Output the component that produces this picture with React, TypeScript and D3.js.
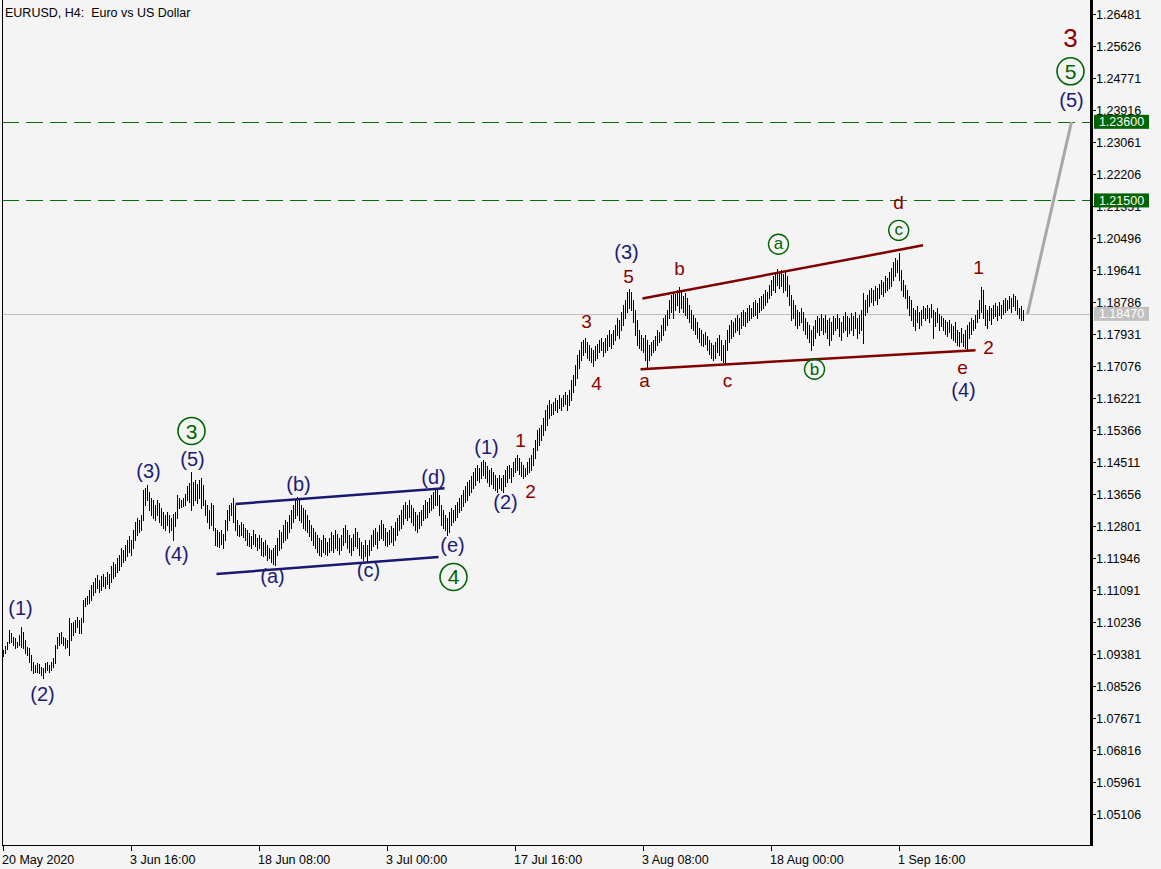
import React from 'react';
import * as d3 from 'd3';

// H4 bars, price x 10000 (high / low), bar 0 = 20 May 2020 00:00
const highs: number[] = [
  10949,10959,10970,11002,10994,10983,10981,10970,10989,11010,
  10997,10975,10957,10954,10935,10917,10909,10914,10911,10903,
  10901,10914,10917,10909,10917,10927,10962,10983,10994,10997,
  10983,10981,10975,11034,11021,11023,11029,11037,11029,11034,
  11082,11088,11093,11109,
  11122,11130,11141,11149,11136,11146,11152,11144,11157,11152,11173,11184,11178,11194,11202,11221,11216,11229,11242,11253,11242,11269,11291,11301,11296,11309,11376,11381,11390,
  11371,11355,11349,11336,11349,11341,11328,11317,11309,11317,11309,11301,11312,11317,11363,11355,11349,11355,11365,11387,11395,11424,11397,11403,11392,11403,11408,11390,
  11349,11336,11323,11341,11336,11275,11269,11264,11269,11258,
  11296,11323,11336,11341,11355,11336,11296,11283,11291,11285,
  11275,11269,11261,11253,11269,11258,11248,11256,11248,11237,
  11242,11229,11221,11216,11221,11229,11248,11269,11264,11283,
  11296,11291,11309,11323,11336,11349,11357,11355,11336,11328,
  11323,11309,11296,11283,11275,11264,11256,11248,11242,11256,
  11248,11237,11248,11264,11256,11269,11258,11248,11256,11275,
  11283,11269,11256,11248,11258,11275,11264,11248,11237,11229,
  11242,11229,11242,11256,11269,11275,11264,11283,11296,11285,
  11275,11264,11269,11280,11275,11291,11301,11309,11323,11336,
  11344,11336,11349,11336,11328,11317,11309,11317,11323,11336,
  11349,11344,11355,11363,11371,11376,11381,11363,11336,11323,
  11309,11301,11317,11328,11323,11336,11344,11355,11363,11376,
  11387,11397,11403,11414,11424,11435,11443,11435,11451,11456,
  11451,11440,11430,11435,11424,11416,11408,11416,11408,11416,
  11430,11440,11443,11435,11451,11462,11470,11462,11451,11443,
  11435,11451,11462,11470,11488,
  11510,11536,11541,11550,11568,11590,11603,11617,11606,11611,
  11622,11617,11630,11622,11630,11638,11630,11643,11670,11683,
  11710,11737,11750,11771,11777,11782,11771,11763,11755,11750,
  11761,11766,11777,11782,11771,11782,11790,11804,11793,11804,
  11817,11836,11830,11852,11870,11884,11905,11913,
  11905,11884,11857,11830,11804,11790,11782,11790,11777,11763,
  11771,11777,11788,11804,11798,11817,11836,11844,11857,11884,
  11897,11905,11900,11910,11918,11905,11894,11902,11889,11870,
  11857,11844,11836,11825,11809,11804,11793,11798,11788,11777,
  11769,11763,11771,11782,11790,11777,11763,
  11777,11804,11817,11830,11825,11836,11844,11836,11852,11857,
  11852,11862,11870,11862,11878,11884,11876,11889,11894,11900,
  11910,11905,11924,11937,11948,11958,11966,11958,11964,11953,
  11958,11948,11924,11897,11884,11870,11857,11852,11862,11852,
  11836,11825,11817,11804,11814,11830,11841,11836,11846,11836,
  11844,11830,11836,11825,11841,11836,11846,11836,11825,11841,
  11852,11841,11836,11849,11841,11852,11836,11844,11857,11902,
  11884,11897,11910,11916,11910,11921,11916,11926,11937,11932,
  11948,11942,11958,11969,11985,11996,11990,12009,11964,11937,
  11924,11910,11894,11884,11862,11857,11868,11852,11857,11868,
  11862,11870,11862,11873,11857,11852,11862,11846,11841,11836,
  11830,11825,11830,11820,11814,11825,11804,11798,11809,11793,
  11804,11817,11825,11836,11830,11844,11857,11884,11918,11910,
  11870,11857,11868,11862,11870,11876,11868,11878,11870,11884,
  11889,11884,11894,11889,11900,11894,11884,11862,11868,11857,
];
const lows: number[] = [
  10933,10941,10951,10967,10970,10962,10954,10957,10962,10957,
  10954,10941,10935,10917,10895,10887,10890,10890,10887,10882,
  10874,10890,10895,10890,10895,10903,10914,10954,10962,10967,
  10962,10954,10957,10935,10975,10989,10997,11010,10994,10994,
  11023,11066,11072,11074,
  11082,11096,11104,11114,11104,11109,11120,11114,11125,11114,11130,11141,11146,11157,11162,11173,11184,11189,11200,11210,11202,11221,11242,11256,11264,11269,11296,11336,11349,
  11323,11309,11301,11296,11309,11291,11283,11275,11269,11283,11264,11269,11242,11280,11301,11328,11331,11333,11336,11349,11344,11323,11336,11349,11341,11355,11328,11336,
  11309,11291,11275,11283,11269,11229,11226,11224,11231,11221,
  11242,11269,11296,11309,11291,11269,11256,11253,11256,11250,
  11242,11229,11226,11221,11231,11226,11216,11221,11202,11200,
  11202,11189,11194,11184,11178,11176,11202,11216,11221,11237,
  11242,11248,11264,11275,11291,11301,11309,11296,11291,11275,
  11269,11264,11253,11242,11229,11221,11210,11202,11200,11210,
  11205,11202,11210,11216,11210,11221,11216,11205,11216,11229,
  11237,11221,11210,11202,11216,11226,11221,11202,11194,11189,
  11200,11184,11202,11216,11226,11231,11221,11242,11248,11242,
  11229,11226,11231,11237,11229,11242,11256,11269,11275,11285,
  11301,11296,11304,11291,11283,11269,11264,11275,11283,11296,
  11301,11304,11317,11323,11328,11336,11336,11309,11283,11275,
  11269,11256,11264,11283,11291,11296,11304,11317,11323,11333,
  11344,11349,11363,11371,11381,11390,11403,11397,11408,11416,
  11408,11397,11387,11392,11381,11376,11371,11381,11376,11371,
  11387,11397,11408,11397,11414,11424,11430,11419,11414,11408,
  11414,11419,11424,11430,11443,
  11462,11483,11496,11510,11523,11536,11550,11568,11577,11579,
  11590,11585,11595,11590,11601,11606,11590,11603,11617,11638,
  11657,11675,11702,11723,11737,11745,11729,11723,11718,11707,
  11723,11729,11745,11750,11734,11745,11750,11761,11755,11766,
  11777,11790,11782,11804,11817,11836,11852,11862,
  11857,11825,11790,11763,11755,11750,11745,11723,11702,11723,
  11737,11745,11750,11763,11771,11777,11790,11804,11817,11836,
  11852,11836,11857,11870,11852,11862,11852,11844,11836,11825,
  11809,11804,11793,11782,11771,11763,11761,11766,11750,11739,
  11729,11723,11729,11745,11737,11723,11718,
  11713,11750,11771,11782,11788,11798,11804,11793,11809,11817,
  11814,11825,11830,11836,11841,11844,11836,11852,11857,11862,
  11870,11878,11889,11897,11910,11905,11924,11916,11921,11905,
  11910,11894,11870,11830,11836,11817,11809,11817,11825,11804,
  11793,11782,11771,11750,11763,11782,11798,11790,11804,11793,
  11798,11782,11763,11777,11793,11804,11809,11788,11777,11798,
  11804,11788,11796,11804,11790,11809,11782,11796,11804,11769,
  11844,11852,11868,11878,11870,11884,11873,11889,11900,11894,
  11905,11910,11916,11921,11937,11948,11958,11937,11910,11894,
  11889,11862,11844,11830,11814,11804,11825,11809,11817,11836,
  11830,11836,11825,11838,11782,11814,11825,11804,11814,11804,
  11793,11788,11798,11782,11777,11771,11763,11761,11771,11761,
  11755,11753,11782,11793,11804,11809,11825,11836,11852,11836,
  11817,11809,11830,11820,11836,11841,11830,11844,11836,11846,
  11852,11857,11862,11852,11868,11857,11846,11836,11830,11830,
];

const priceTicks: number[] = [
  1.05106,1.05961,1.06816,1.07671,1.08526,1.09381,1.10236,1.11091,1.11946,1.12801,
  1.13656,1.14511,1.15366,1.16221,1.17076,1.17931,1.18786,1.19641,1.20496,1.21351,
  1.22206,1.23061,1.23916,1.24771,1.25626,1.26481,
];
const timeTickBars: number[] = [0, 64, 128, 192, 256, 320, 384, 448];
const timeTickLabels: string[] = [
  '20 May 2020','3 Jun 16:00','18 Jun 08:00','3 Jul 00:00',
  '17 Jul 16:00','3 Aug 08:00','18 Aug 00:00','1 Sep 16:00',
];
const targetLevels: number[] = [1.236, 1.215];
const lastPrice = 1.1847;

// trend lines: [bar1, price1, bar2, price2]
const navyChannel: number[][] = [
  [116, 1.1339, 220.5, 1.1381],
  [106.5, 1.1152, 217.5, 1.1197],
];
const redTriangle: number[][] = [
  [319.5, 1.1888, 459.8, 1.2030],
  [318.5, 1.1699, 486, 1.1750],
];
const projection: number[] = [512, 1.1847, 534, 1.236];

type Lbl = { t: string; i: number; p: number };
const navyLabels: Lbl[] = [
  { t: '(1)', i: 8.5, p: 1.1058 }, { t: '(2)', i: 19.5, p: 1.0828 },
  { t: '(3)', i: 72.5, p: 1.1424 }, { t: '(4)', i: 86.5, p: 1.12 },
  { t: '(5)', i: 94.5, p: 1.1454 }, { t: '(a)', i: 134.5, p: 1.1141 },
  { t: '(b)', i: 147.5, p: 1.1387 }, { t: '(c)', i: 182.5, p: 1.1157 },
  { t: '(d)', i: 215, p: 1.1408 }, { t: '(e)', i: 224.5, p: 1.1226 },
  { t: '(1)', i: 241.5, p: 1.1486 }, { t: '(2)', i: 251, p: 1.1341 },
  { t: '(3)', i: 311.5, p: 1.2007 }, { t: '(4)', i: 480, p: 1.1638 },
  { t: '(5)', i: 534, p: 1.2413 },
];
const redLabels: Lbl[] = [
  { t: '1', i: 258.5, p: 1.151 }, { t: '2', i: 263.5, p: 1.1373 },
  { t: '3', i: 291.5, p: 1.1828 }, { t: '4', i: 296.5, p: 1.1662 },
  { t: '5', i: 312.5, p: 1.1948 }, { t: 'a', i: 320.5, p: 1.1665 },
  { t: 'b', i: 338, p: 1.1969 }, { t: 'c', i: 362, p: 1.1665 },
  { t: 'd', i: 447.5, p: 1.2146 }, { t: 'e', i: 479.5, p: 1.1699 },
  { t: '1', i: 487.5, p: 1.1972 }, { t: '2', i: 492.5, p: 1.1758 },
];
const bigRedLabel: Lbl = { t: '3', i: 533.5, p: 1.2584 };
const circledBig: Lbl[] = [
  { t: '3', i: 94, p: 1.1534 }, { t: '4', i: 225, p: 1.1144 }, { t: '5', i: 533.5, p: 1.2495 },
];
const circledSmall: Lbl[] = [
  { t: 'a', i: 387.5, p: 1.2033 }, { t: 'b', i: 405.5, p: 1.1699 }, { t: 'c', i: 447.6, p: 1.207 },
];

const W = 1161;
const H = 869;
const BG = '#f4f4f4';
const NAVY = '#1c1c78';
const DRED = '#8b0000';
const GREEN = '#006400';
const FONT = '"Liberation Sans", Arial, sans-serif';

const dyFor = (t: string) => (/[()]/.test(t) || /^[ace]$/.test(t) ? '0.27em' : '0.36em');

export default function App() {
  const x = d3.scaleLinear().domain([0, 510]).range([3.5, 1023.5]);
  const y = d3.scaleLinear().domain([1.05106, 1.26481]).range([814, 14]);
  const py = (v: number) => y(v / 10000);

  const barPath = highs
    .map((h, i) => `M${x(i)},${Math.round(py(h))}V${Math.round(py(lows[i])) + 1}`)
    .join('');

  const axisX = 1091;
  const bottomY = 845;
  const fmt = d3.format('.5f');

  const seg = (s: number[], k: number) => (
    <line key={k} x1={x(s[0])} y1={y(s[1])} x2={x(s[2])} y2={y(s[3])} />
  );

  return (
    <svg width={W} height={H} style={{ position: 'absolute', left: 0, top: 0 }} fontFamily={FONT}>
      <rect x={0} y={0} width={W} height={H} fill={BG} />
      {/* level lines */}
      <g stroke="#0a6e0a" strokeWidth={1} strokeDasharray="17 7" shapeRendering="crispEdges">
        {targetLevels.map((l, k) => (
          <line key={k} x1={2} x2={axisX} y1={Math.round(y(l)) + 0.5} y2={Math.round(y(l)) + 0.5} />
        ))}
      </g>
      <line x1={2} x2={axisX} y1={Math.round(y(lastPrice)) + 0.5} y2={Math.round(y(lastPrice)) + 0.5}
        stroke="#c0c0c0" strokeWidth={1} shapeRendering="crispEdges" />
      {/* bars */}
      <path d={barPath} stroke="#000" strokeWidth={1} fill="none" shapeRendering="crispEdges" />
      {/* trend lines */}
      <g stroke="#191970" strokeWidth={2.5}>{navyChannel.map(seg)}</g>
      <g stroke="#800000" strokeWidth={2.5}>{redTriangle.map(seg)}</g>
      <line x1={x(projection[0])} y1={y(projection[1])} x2={x(projection[2])} y2={y(projection[3])}
        stroke="#a8a8a8" strokeWidth={3} />
      {/* labels */}
      <g fill={NAVY} fontSize={20} textAnchor="middle">
        {navyLabels.map((l, k) => (
          <text key={k} x={x(l.i)} y={y(l.p)} dy={dyFor(l.t)}>{l.t}</text>
        ))}
      </g>
      <g fill={DRED} fontSize={19} textAnchor="middle">
        {redLabels.map((l, k) => (
          <text key={k} x={x(l.i)} y={y(l.p)} dy={dyFor(l.t)}>{l.t}</text>
        ))}
        <text x={x(bigRedLabel.i)} y={y(bigRedLabel.p)} dy="0.36em" fontSize={26}>{bigRedLabel.t}</text>
      </g>
      <g fill={GREEN} textAnchor="middle">
        {circledBig.map((l, k) => (
          <g key={k}>
            <circle cx={x(l.i)} cy={y(l.p)} r={13.5} fill="none" stroke={GREEN} strokeWidth={1.6} />
            <text x={x(l.i)} y={y(l.p)} dy="0.36em" fontSize={21}>{l.t}</text>
          </g>
        ))}
        {circledSmall.map((l, k) => (
          <g key={k}>
            <circle cx={x(l.i)} cy={y(l.p)} r={10} fill="none" stroke={GREEN} strokeWidth={1.4} />
            <text x={x(l.i)} y={y(l.p)} dy={dyFor(l.t)} fontSize={17}>{l.t}</text>
          </g>
        ))}
      </g>
      {/* frame */}
      <g stroke="#000" shapeRendering="crispEdges">
        <line x1={2.5} x2={2.5} y1={0} y2={bottomY} strokeWidth={1} />
        <line x1={2} x2={axisX + 1} y1={bottomY + 0.5} y2={bottomY + 0.5} strokeWidth={1} />
        <line x1={axisX} x2={axisX} y1={0} y2={bottomY + 1} strokeWidth={3} />
      </g>
      {/* price axis */}
      <g fontSize={12.5} fill="#000">
        {priceTicks.map((p, k) => {
          const ty = Math.round(y(p)) + 0.5;
          return (
            <g key={k}>
              <line x1={axisX + 1} x2={axisX + 5} y1={ty} y2={ty} stroke="#000" shapeRendering="crispEdges" />
              <text x={axisX + 5} y={ty} dy="0.36em">{fmt(p)}</text>
            </g>
          );
        })}
      </g>
      {targetLevels.map((l, k) => (
        <g key={k}>
          <rect x={axisX + 3} y={y(l) - 7} width={55} height={14} fill={GREEN} />
          <text x={axisX + 30.5} y={y(l)} dy="0.36em" fontSize={12.5} fill="#fff" textAnchor="middle">{fmt(l)}</text>
        </g>
      ))}
      <rect x={axisX + 3} y={y(lastPrice) - 7} width={55} height={14} fill="#c0c0c0" />
      <text x={axisX + 30.5} y={y(lastPrice)} dy="0.36em" fontSize={12.5} fill="#fff" textAnchor="middle">{fmt(lastPrice)}</text>
      {/* time axis */}
      <g fontSize={12.5} fill="#000">
        {timeTickBars.map((b, k) => (
          <g key={k}>
            <line x1={x(b)} x2={x(b)} y1={bottomY + 1} y2={bottomY + 6} stroke="#000" shapeRendering="crispEdges" />
            <text x={x(b) - 1.5} y={864}>{timeTickLabels[k]}</text>
          </g>
        ))}
      </g>
      <text x={5} y={17} fontSize={12.5} fill="#000" style={{ whiteSpace: 'pre' }}>{'EURUSD, H4:  Euro vs US Dollar'}</text>
    </svg>
  );
}
